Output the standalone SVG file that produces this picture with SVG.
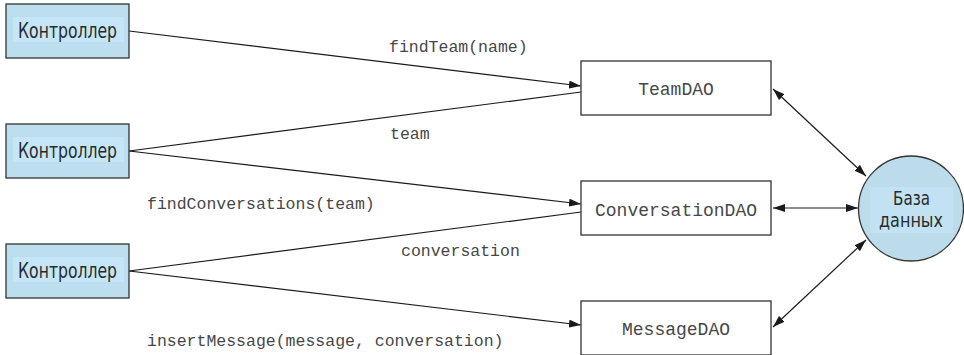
<svg xmlns="http://www.w3.org/2000/svg" width="964" height="355" viewBox="0 0 964 355">
  <style>
    .ctrl rect.box { fill: #bcdeef; stroke: #333; stroke-width: 1.3; }
    .ctrl rect.hl { fill: #c5e6f8; }
    .ctrl text, .db text { font-family: "DejaVu Sans Condensed", "Liberation Sans Narrow", "Liberation Sans", sans-serif; font-size: 21px; fill: #2b2b2b; text-anchor: middle; }
    .db text { font-size: 20px; }
    .dao rect { fill: #fff; stroke: #333; stroke-width: 1.3; }
    .dao text { font-family: "Liberation Mono", "Courier New", monospace; font-size: 18px; fill: #474747; text-anchor: middle; }
    .db circle { fill: #bcdcec; stroke: #333; stroke-width: 1.3; }
    .db rect { fill: #c2e2f4; }
    .lbl { font-family: "Liberation Mono", "Courier New", monospace; font-size: 16.5px; fill: #474747; }
    .wire { stroke: #1a1a1a; stroke-width: 1.2; fill: none; }
    .req { marker-end: url(#head); }
    .both { marker-start: url(#tail); marker-end: url(#head); }
  </style>
  <defs>
    <marker id="head" viewBox="0 0 12 8" refX="12" refY="4" markerWidth="12" markerHeight="8" markerUnits="userSpaceOnUse" orient="auto">
      <path d="M0,0 L12,4 L0,8 Z" fill="#1a1a1a"/>
    </marker>
    <marker id="tail" viewBox="0 0 12 8" refX="0" refY="4" markerWidth="12" markerHeight="8" markerUnits="userSpaceOnUse" orient="auto">
      <path d="M12,0 L0,4 L12,8 Z" fill="#1a1a1a"/>
    </marker>
  </defs>

  <!-- connectors -->
  <g id="connectors">
    <line class="wire req" x1="129" y1="31" x2="581" y2="86"/>
    <line class="wire" x1="581" y1="92" x2="129" y2="151"/>
    <line class="wire req" x1="129" y1="151" x2="581" y2="204"/>
    <line class="wire" x1="581" y1="212" x2="129" y2="271"/>
    <line class="wire req" x1="129" y1="271" x2="581" y2="325"/>
    <line class="wire both" x1="773" y1="89" x2="866" y2="176"/>
    <line class="wire both" x1="773" y1="208" x2="858" y2="208"/>
    <line class="wire both" x1="773" y1="327" x2="866" y2="240"/>
  </g>

  <!-- call / return labels -->
  <g id="labels">
    <text class="lbl" x="389" y="52">findTeam(name)</text>
    <text class="lbl" x="390" y="139">team</text>
    <text class="lbl" x="147" y="209">findConversations(team)</text>
    <text class="lbl" x="401" y="256">conversation</text>
    <text class="lbl" x="147" y="346">insertMessage(message, conversation)</text>
  </g>

  <g id="controller1" class="ctrl">
    <rect class="box" x="6" y="4" width="123" height="54"/>
    <rect class="hl" x="13" y="17" width="111" height="25"/>
    <text x="67.5" y="37.5" textLength="99" lengthAdjust="spacingAndGlyphs">Контроллер</text>
  </g>
  <g id="controller2" class="ctrl">
    <rect class="box" x="6" y="124" width="123" height="54"/>
    <rect class="hl" x="13" y="137" width="111" height="25"/>
    <text x="67.5" y="157.5" textLength="99" lengthAdjust="spacingAndGlyphs">Контроллер</text>
  </g>
  <g id="controller3" class="ctrl">
    <rect class="box" x="6" y="244" width="123" height="54"/>
    <rect class="hl" x="13" y="257" width="111" height="25"/>
    <text x="67.5" y="277.5" textLength="99" lengthAdjust="spacingAndGlyphs">Контроллер</text>
  </g>

  <g id="teamDAO" class="dao">
    <rect x="581" y="61" width="190" height="54"/>
    <text x="676" y="95">TeamDAO</text>
  </g>
  <g id="conversationDAO" class="dao">
    <rect x="581" y="181" width="190" height="54"/>
    <text x="676" y="216">ConversationDAO</text>
  </g>
  <g id="messageDAO" class="dao">
    <rect x="581" y="301" width="190" height="54"/>
    <text x="676" y="334.5">MessageDAO</text>
  </g>

  <g id="database" class="db">
    <circle cx="911" cy="208.5" r="52.5"/>
    <rect x="870" y="187" width="83" height="46"/>
    <text x="911.5" y="205" textLength="37" lengthAdjust="spacingAndGlyphs">База</text>
    <text x="911" y="227" textLength="64" lengthAdjust="spacingAndGlyphs">данных</text>
  </g>
</svg>
